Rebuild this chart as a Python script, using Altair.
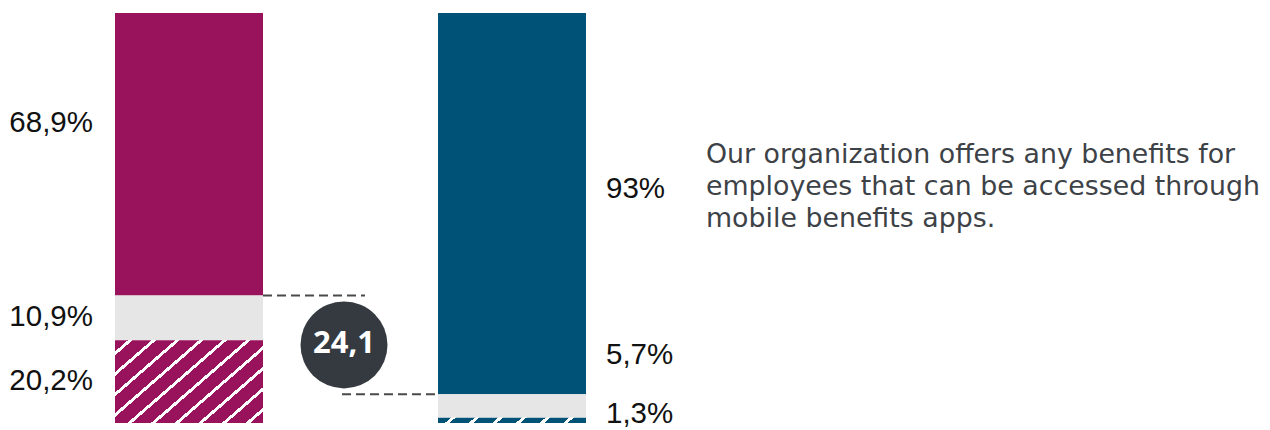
import altair as alt
import pandas as pd
import math

# ---------------- data ----------------
bars = ["before", "after"]                     # left bar, right bar
segments = ["main", "neutral", "hatched"]      # top to bottom
left_values = [68.9, 10.9, 20.2]
right_values = [93.0, 5.7, 1.3]
left_labels = ["68,9%", "10,9%", "20,2%"]
right_labels = ["93%", "5,7%", "1,3%"]
gap_label = "24,1"
description = [
    "Our organization offers any benefits for",
    "employees that can be accessed through",
    "mobile benefits apps.",
]

# ---------------- style ----------------
W, H = 1254, 410
PAD_TOP, PAD_BOTTOM = 5, 7
BAR_W = 148
X_RANGE = [181, 504]          # pixel centres of the two bars
MAGENTA = "#98135B"
BLUE = "#005377"
GREY = "#E6E6E6"
DARK = "#343A40"
DASH = "#4A4A4A"
LABEL_FONT = "Liberation Sans"
TEXT_FONT = "DejaVu Sans"
# label nudges in pixels relative to segment middle (left bar, right bar)
left_nudge = [-31, -1, -1]
right_nudge = [-15, -51, -6]

px_per_unit = H / 100.0

# ---------------- tables ----------------
rows = []
for bar, vals, labs, nudges in [
    (bars[0], left_values, left_labels, left_nudge),
    (bars[1], right_values, right_labels, right_nudge),
]:
    top = 100.0
    for seg, v, lab, nd in zip(segments, vals, labs, nudges):
        y0 = top - v
        key = "neutral" if seg == "neutral" else f"{bar}-{seg}"
        rows.append(dict(bar=bar, seg=seg, key=key, y0=y0, y1=top, label=lab,
                         label_y=(y0 + top) / 2 - nd / px_per_unit))
        top = y0
df = pd.DataFrame(rows)

left_gap_top = left_values[1] + left_values[2]
right_gap_top = right_values[1] + right_values[2]

xscale = alt.Scale(type="point", domain=bars, range=X_RANGE, padding=0)
yscale = alt.Scale(domain=[0, 100], nice=False, zero=False)
X = alt.X("bar:N", scale=xscale, axis=None)
Y0 = alt.Y("y0:Q", scale=yscale, axis=None)


def hatch_gradient(w, h, color, theta_deg=41.0, period=15.5, stripe=3.0):
    s = math.sin(math.radians(theta_deg))
    c = math.cos(math.radians(theta_deg))
    L = s * w + c * h
    a = L / (w * w * s * s + h * h * c * c)
    stops = [alt.GradientStop(color=color, offset=0)]
    o = period * 0.55
    while o + stripe < L:
        f0, f1 = o / L, (o + stripe) / L
        stops += [
            alt.GradientStop(color=color, offset=f0),
            alt.GradientStop(color="#FFFFFF", offset=f0),
            alt.GradientStop(color="#FFFFFF", offset=f1),
            alt.GradientStop(color=color, offset=f1),
        ]
        o += period
    stops.append(alt.GradientStop(color=color, offset=1))
    return alt.LinearGradient(gradient="linear", stops=stops,
                              x1=0, y1=0, x2=a * w * s, y2=a * h * c)


solid = alt.Chart(df).transform_filter(alt.datum.seg != "hatched").mark_bar(
    width=BAR_W).encode(
    x=X, y=Y0, y2="y1:Q",
    color=alt.Color("key:N", legend=None, scale=alt.Scale(
        domain=["before-main", "after-main", "neutral"],
        range=[MAGENTA, BLUE, GREY])),
)

hatched_layers = []
for bar, vals, col in [(bars[0], left_values, MAGENTA), (bars[1], right_values, BLUE)]:
    h = vals[2] * px_per_unit
    hatched_layers.append(
        alt.Chart(df).transform_filter(
            (alt.datum.seg == "hatched") & (alt.datum.bar == bar)
        ).mark_bar(width=BAR_W, fill=hatch_gradient(BAR_W, h, col)).encode(
            x=X, y=Y0, y2="y1:Q")
    )

label_left = alt.Chart(df).transform_filter(alt.datum.bar == bars[0]).mark_text(
    align="right", baseline="middle", dx=-96, font=LABEL_FONT, fontSize=29.5,
    color="#111111").encode(
    x=X, y=alt.Y("label_y:Q", scale=yscale, axis=None), text="label:N")

label_right = alt.Chart(df).transform_filter(alt.datum.bar == bars[1]).mark_text(
    align="left", baseline="middle", dx=94, font=LABEL_FONT, fontSize=29.5,
    color="#111111").encode(
    x=X, y=alt.Y("label_y:Q", scale=yscale, axis=None), text="label:N")

rule_df = pd.DataFrame([
    dict(bar=bars[0], bar_to=bars[1], y0=left_gap_top, which="top"),
    dict(bar=bars[0], bar_to=bars[1], y0=right_gap_top, which="bottom"),
])
rule_top = alt.Chart(rule_df).transform_filter(alt.datum.which == "top").mark_rule(
    color=DASH, strokeWidth=2, strokeDash=[9, 5], xOffset=BAR_W / 2,
    x2Offset=-147).encode(x=X, x2="bar_to:N", y=Y0)
rule_bottom = alt.Chart(rule_df).transform_filter(alt.datum.which == "bottom").mark_rule(
    color=DASH, strokeWidth=2, strokeDash=[9, 5], xOffset=153,
    x2Offset=-BAR_W / 2).encode(x=X, x2="bar_to:N", y=Y0)

circle_df = pd.DataFrame([dict(bar=bars[0], y0=(left_gap_top + right_gap_top) / 2,
                               label=gap_label)])
circle = alt.Chart(circle_df).mark_point(
    shape="circle", filled=True, size=87 * 87, color=DARK, opacity=1,
    xOffset=155).encode(x=X, y=Y0)
circle_text = alt.Chart(circle_df).mark_text(
    font="Open Sans", fontWeight="bold", fontSize=31, color="#FFFFFF",
    baseline="middle", align="center", dx=155, dy=-1).encode(
    x=X, y=Y0, text="label:N")

desc_df = pd.DataFrame([dict(bar=bars[1], text=description)])
desc = alt.Chart(desc_df).mark_text(
    font=TEXT_FONT, fontSize=26.8, color="#3D4247", align="left",
    baseline="alphabetic", lineHeight=32.3, dx=194).encode(
    x=X, y=alt.value(154.7 - PAD_TOP), text="text")

chart = alt.layer(
    solid, *hatched_layers, rule_top, rule_bottom, circle, circle_text,
    label_left, label_right, desc,
).properties(
    width=W, height=H,
    autosize=alt.AutoSizeParams(type="none"),
    padding={"left": 0, "right": 0, "top": PAD_TOP, "bottom": PAD_BOTTOM},
).configure_view(stroke=None)

chart.save("out.html", embed_options={"renderer": "svg", "actions": False})
